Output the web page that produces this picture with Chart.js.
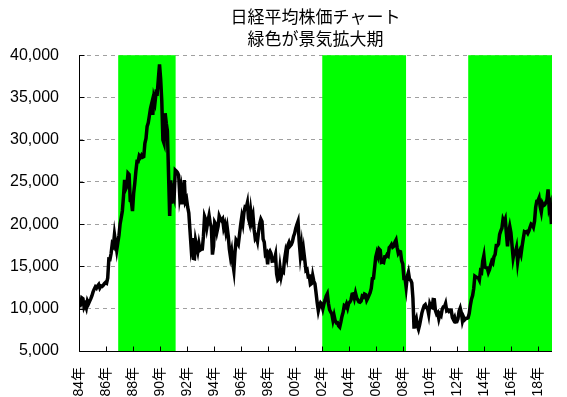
<!DOCTYPE html>
<html>
<head>
<meta charset="utf-8">
<script src="https://cdn.jsdelivr.net/npm/chart.js@4/dist/chart.umd.min.js"></script>
<style>
  body { margin: 0; background: #fff; }
  #wrap { width: 567px; height: 397px; }
</style>
</head>
<body>
<div id="wrap"><canvas id="nikkeiChart"></canvas></div>
<script>
// monthly closes, Jan 1984 onwards
const nikkei1980s = [
    10200, 10500, 11300, 11200, 10200, 10500, 10100, 10900, 10600, 10900, 11200, 11540,
    11990, 12320, 12580, 12430, 12710, 12880, 12460, 12700, 12650, 12780, 12970, 13110,
    13020, 13640, 15860, 15830, 16530, 17650, 17420, 18790, 17850, 16910, 17850, 18700,
    20020, 20770, 21570, 23270, 25260, 24180, 24490, 26030, 25880, 22770, 22690, 21560,
    23620, 24800, 26260, 27430, 27420, 28100, 27910, 28150, 27920, 27990, 29580, 30160,
    31580, 31990, 32840, 33710, 34270, 32950, 34950, 34430, 35640, 35550, 37270, 38920
];
const nikkei1990s = [
    37190, 34590, 29980, 29580, 33130, 31940, 31040, 25980, 20980, 25190, 22450, 23850,
    23290, 26410, 26290, 26110, 25790, 23290, 24120, 22340, 23920, 25220, 22690, 22980,
    22020, 21340, 19350, 17390, 18350, 15950, 15910, 18060, 17400, 16770, 17680, 16920,
    17020, 17050, 18590, 20920, 20550, 19590, 20380, 21030, 20110, 19700, 16410, 17420,
    20230, 19990, 19110, 19730, 20970, 20640, 20450, 20630, 19560, 19990, 19080, 19720,
    18650, 17050, 16140, 16810, 15440, 14520, 16680, 18120, 17910, 17650, 18740, 19870,
    20810, 20130, 21410, 22040, 21960, 22530, 20690, 20170, 21560, 20470, 21020, 19360,
    18330, 18560, 18000, 19150, 20070, 20600, 20330, 18230, 17890, 16460, 16630, 15260,
    16630, 16830, 16530, 15640, 15670, 15830, 16380, 14110, 13410, 13560, 14880, 13840,
    14500, 14370, 15840, 16700, 16110, 17530, 17860, 17440, 17600, 17940, 18560, 18930
];
const nikkei2000s = [
    19540, 19960, 20340, 17970, 16330, 17410, 15730, 16860, 15750, 14540, 14650, 13790,
    13840, 12880, 12990, 13930, 13260, 12970, 11860, 10710, 9770, 10370, 10700, 10540,
    9990, 10590, 11020, 11490, 11760, 10620, 9880, 9620, 9380, 8640, 9220, 8580,
    8340, 8360, 7970, 7830, 8420, 9080, 9560, 10340, 10220, 10560, 10100, 10680,
    10780, 11040, 11720, 11760, 11240, 11860, 11330, 11080, 10820, 10770, 10900, 11490,
    11390, 11740, 11670, 11010, 11280, 11580, 11900, 12410, 13570, 13610, 14870, 16110,
    16650, 16210, 17060, 16910, 15470, 15510, 15460, 16140, 16130, 16400, 16270, 17230,
    17380, 17600, 17290, 17400, 17880, 18140, 17250, 16570, 16790, 16740, 15680, 15310,
    13590, 13600, 12530, 13850, 14340, 13480, 13380, 13070, 11260, 7650, 8510, 8860,
    7990, 7570, 8110, 8830, 9520, 9960, 10360, 10490, 10130, 10030, 9350, 10550
];
const nikkei2010s = [
    10200, 10130, 11090, 11060, 9770, 9380, 9540, 8820, 9370, 9200, 9940, 10230,
    10240, 10620, 9760, 9850, 9690, 9820, 9830, 8960, 8700, 8990, 8430, 8460,
    8800, 9720, 10080, 9520, 8540, 9010, 8700, 8840, 8870, 8930, 9450, 10400,
    11140, 11560, 12400, 13860, 13770, 13680, 13670, 13390, 14460, 14330, 15660, 16290,
    14910, 14840, 14830, 14300, 14630, 15160, 15620, 15420, 16170, 16410, 17460, 17450,
    17670, 18800, 19210, 19520, 20560, 20240, 20590, 18890, 17390, 19080, 19750, 19030,
    17520, 16030, 16760, 16670, 17230, 15580, 16570, 16890, 16450, 17430, 18310, 19110,
    19040, 19120, 18910, 19200, 19650, 20030, 19930, 19650, 20360, 22010, 22720, 22760,
    23100, 22070, 21450, 22470, 22200, 22300, 22550, 22870, 24120, 21920, 22350, 20010
];

const startYear = 1984;
const endYear = 2019;

// expansion periods (green), in years
const bandStarts = [1986.9, 2002.0, 2012.8];
const bandEnds = [1991.15, 2008.2, 2019.0];

const titleLines = ['日経平均株価チャート', '緑色が景気拡大期'];

const closes = [...nikkei1980s, ...nikkei1990s, ...nikkei2000s, ...nikkei2010s];
const points = closes.map((v, i) => ({ x: startYear + (i + 0.5) / 12, y: v }));

const fontFamily = "'Liberation Sans', 'Noto Sans CJK JP', sans-serif";

const bandPlugin = {
    id: 'bands',
    beforeDatasetsDraw(chart) {
        const { ctx, chartArea, scales } = chart;
        ctx.save();
        ctx.fillStyle = '#00ff00';
        for (let i = 0; i < bandStarts.length; i++) {
            const x0 = scales.x.getPixelForValue(bandStarts[i]);
            const x1 = scales.x.getPixelForValue(bandEnds[i]);
            ctx.fillRect(x0, chartArea.top, x1 - x0, chartArea.bottom - chartArea.top);
        }
        ctx.restore();
    },
    afterDatasetsDraw(chart) {
        const { ctx, chartArea, scales } = chart;
        const left = Math.round(chartArea.left) + 0.5;
        const bottom = Math.round(chartArea.bottom) + 0.5;
        ctx.save();
        ctx.strokeStyle = '#000';
        ctx.lineWidth = 1;
        ctx.beginPath();
        // axis lines
        ctx.moveTo(left, chartArea.top);
        ctx.lineTo(left, bottom);
        ctx.lineTo(chartArea.right, bottom);
        // inward tick marks
        scales.y.ticks.forEach(t => {
            const y = Math.round(scales.y.getPixelForValue(t.value)) + 0.5;
            ctx.moveTo(left, y);
            ctx.lineTo(left + 5, y);
        });
        scales.x.ticks.forEach(t => {
            if (t.value % 2 !== 0) return;
            const x = Math.round(scales.x.getPixelForValue(t.value)) + 0.5;
            ctx.moveTo(x, bottom);
            ctx.lineTo(x, bottom - 5);
        });
        ctx.stroke();
        ctx.restore();
    }
};

const nikkeiChart = new Chart(document.getElementById('nikkeiChart'), {
    type: 'line',
    data: {
        datasets: [{
            data: points,
            borderColor: '#000',
            borderWidth: 3.5,
            pointRadius: 0,
            tension: 0,
            fill: false
        }]
    },
    options: {
        responsive: true,
        maintainAspectRatio: false,
        animation: false,
        layout: { padding: { left: 0, right: 15, top: 0, bottom: 0 } },
        plugins: {
            legend: { display: false },
            tooltip: { enabled: false },
            title: {
                display: true,
                fullSize: false,
                text: titleLines,
                color: '#000',
                font: { family: fontFamily, size: 17, weight: 'normal', lineHeight: 1.3 },
                padding: { top: 7, bottom: 4 }
            }
        },
        scales: {
            x: {
                type: 'linear',
                min: startYear,
                max: endYear,
                afterFit(scale) { scale.height = 46; },
                grid: { display: false },
                border: { display: false },
                ticks: {
                    stepSize: 2,
                    includeBounds: false,
                    autoSkip: false,
                    minRotation: 90,
                    maxRotation: 90,
                    padding: 8,
                    color: '#000',
                    font: { family: fontFamily, size: 14 },
                    callback: v => (v % 2 === 0 ? String(v % 100).padStart(2, '0') + '年' : null)
                }
            },
            y: {
                min: 5000,
                max: 40000,
                afterFit(scale) { scale.width = 79; },
                grid: { color: '#a0a0a0', lineWidth: 1, drawTicks: false },
                border: { display: false, dash: [4, 4] },
                ticks: {
                    stepSize: 5000,
                    padding: 20,
                    color: '#000',
                    font: { family: fontFamily, size: 16 },
                    callback: v => v.toLocaleString('en-US')
                }
            }
        }
    },
    plugins: [bandPlugin]
});
</script>
</body>
</html>
